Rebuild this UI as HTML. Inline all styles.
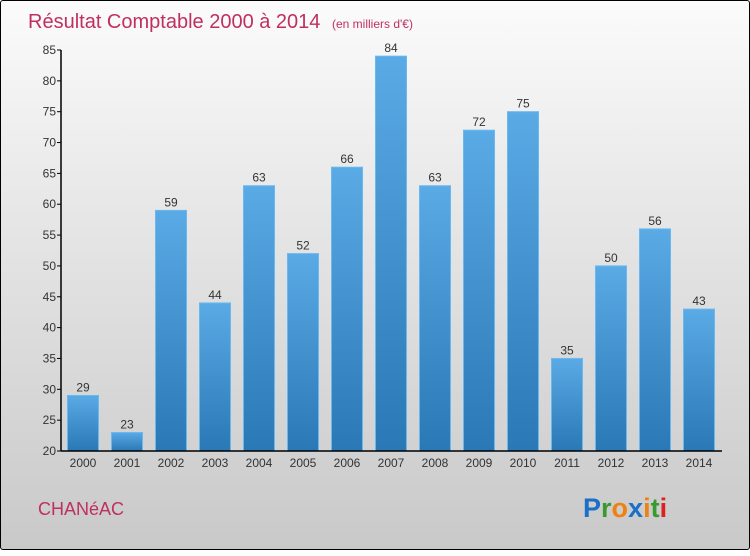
<!DOCTYPE html>
<html><head><meta charset="utf-8"><style>
html,body{margin:0;padding:0}
body{width:750px;height:550px;overflow:hidden;font-family:"Liberation Sans",sans-serif}
#frame{position:absolute;left:0;top:0;width:748px;height:548px;border:1px solid #000;border-radius:3px;background:linear-gradient(#fbfbfb,#e6e6e6 40%,#c9c9c9)}
</style></head><body>
<div id="frame">
<svg width="750" height="550">
<defs><linearGradient id="bg" x1="0" y1="0" x2="0" y2="1"><stop offset="0" stop-color="#5aaae6"/><stop offset="1" stop-color="#2a78b5"/></linearGradient></defs>
<text x="27" y="27" font-size="20" fill="#c0305f">Résultat Comptable 2000 à 2014 <tspan font-size="12" dx="6">(en milliers d'€)</tspan></text>
<g id="yax"></g>
<g id="bars"></g>
<g id="xax"></g>
<text x="37" y="514" font-size="18" fill="#c0305f">CHANéAC</text>
<text x="582" y="516" font-size="27" font-weight="bold"><tspan fill="#1a70c8">P</tspan><tspan fill="#3a9a30">r</tspan><tspan fill="#f08010">o</tspan><tspan fill="#1a70c8">x</tspan><tspan fill="#f08010">i</tspan><tspan fill="#3a9a30">t</tspan><tspan fill="#e02020">i</tspan></text>
</svg></div>
<script>
const years=["2000","2001","2002","2003","2004","2005","2006","2007","2008","2009","2010","2011","2012","2013","2014"];
const values=[29,23,59,44,63,52,66,84,63,72,75,35,50,56,43];
const yTicks=[20,25,30,35,40,45,50,55,60,65,70,75,80,85];
const NS="http://www.w3.org/2000/svg";
const y=v=>450-(v-20)*(401/65);
const x=i=>82+i*44;
function mk(t,a,p,txt){const e=document.createElementNS(NS,t);for(const k in a)e.setAttribute(k,a[k]);if(txt!==undefined)e.textContent=txt;p.appendChild(e);return e;}
const ya=document.getElementById('yax'),xa=document.getElementById('xax'),bg=document.getElementById('bars');
mk('line',{x1:60,y1:y(85),x2:60,y2:450,stroke:'#000','stroke-width':1.5},ya);
mk('line',{x1:60,y1:450,x2:721,y2:450,stroke:'#000','stroke-width':1.5},xa);
yTicks.forEach(t=>{
 const l=mk('line',{x1:56,y1:y(t),x2:60,y2:y(t),stroke:'#000'},ya);
 
 
 const tx=mk('text',{x:55,y:y(t)+4,'font-size':12,'text-anchor':'end',fill:'#333'},ya,t);
 
 
});
values.forEach((v,i)=>{
 const r=mk('rect',{x:x(i)-15.5,y:y(v),width:31,height:450-y(v),fill:'url(#bg)',stroke:'#6ab8f0','stroke-width':1},bg);
 
 
 const t=mk('text',{x:x(i),y:y(v)-4,'font-size':12,'text-anchor':'middle',fill:'#333'},bg,v);
 
 
 const xl=mk('text',{x:x(i),y:466,'font-size':12,'text-anchor':'middle',fill:'#333'},xa,years[i]);
 
 
});
</script>
</body></html>
